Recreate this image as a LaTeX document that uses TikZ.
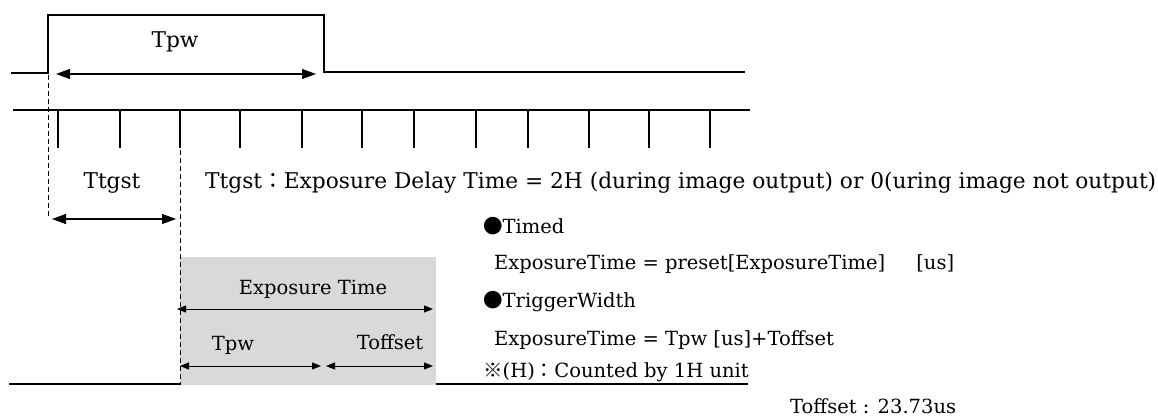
\documentclass[tikz,border=0pt]{standalone}
\usepackage{fontspec}
\setmainfont{DejaVu Serif}
\newfontfamily\cjk{Noto Sans CJK JP}
\usetikzlibrary{arrows.meta}
\definecolor{boxgray}{RGB}{217,217,217}
\tikzset{
  dimarrow/.style={{Triangle[length=14pt,width=10pt]}-{Triangle[length=14pt,width=10pt]},line width=1.2pt},
  dimsmall/.style={{Triangle[length=9pt,width=7pt]}-{Triangle[length=9pt,width=7pt]},line width=1pt},
  sig/.style={line width=1.3pt},
  guide/.style={line width=1pt,dash pattern=on 5pt off 3pt},
  lbl/.style={font=\fontsize{19.5}{21}\selectfont,inner sep=0pt},
  biglbl/.style={font=\fontsize{21.7}{23}\selectfont,inner sep=0pt},
  note/.style={lbl,anchor=west},
}
\begin{document}
\begin{tikzpicture}[x=1pt,y=-1pt]
\useasboundingbox (0,0) rectangle (1158,417);
% trigger input
\draw[sig] (11,73) -- (48,73) -- (48,15) -- (324,15) -- (324,72) -- (745,72);
\coordinate (tpwL) at (56,74);
\coordinate (tpwR) at (316,74);
\draw[dimarrow] (tpwL) -- (tpwR);
\node[biglbl] (tpw) at (175,42) {Tpw};
% H sync
\draw[sig] (13,110) -- (750,110);
\foreach \x in {58,120,180,240,302,362,414,476,528,589,649,710}
\draw[sig] (\x,110) -- (\x,148);
% exposure
\fill[boxgray] (180,257) rectangle (436,385);
\draw[line width=2pt] (9,384) -- (180,384);
\draw[line width=2pt] (436,384) -- (748,384);
\draw[guide] (48,75) -- (48,218);
\draw[guide] (180,150) -- (180,385);
\coordinate (tgL) at (52,219);
\coordinate (tgR) at (176,219);
\draw[dimarrow] (tgL) -- (tgR);
\node[biglbl] (ttgst) at (112,183) {Ttgst};
\coordinate (exL) at (177,309);
\coordinate (exR) at (433,309);
\draw[dimsmall] (exL) -- (exR);
\node[lbl] (exp) at (313,289) {Exposure Time};
\coordinate (pwL) at (180,366);
\coordinate (pwR) at (321,366);
\coordinate (ofL) at (326,366);
\coordinate (ofR) at (433,366);
\draw[dimsmall] (pwL) -- (pwR);
\draw[dimsmall] (ofL) -- (ofR);
\node[lbl] (tpwb) at (233,345) {Tpw};
\node[lbl] (toff) at (390,342) {Toffset};
% notes
\node[biglbl,anchor=west] (delay) at (205,183) {Ttgst{\cjk ：}Exposure Delay Time = 2H (during image output) or 0(uring image not output)};
\node[note] (timed) at (483,226) {{\cjk ●}Timed};
\node[note] (preset) at (494,264) {ExposureTime = preset[ExposureTime]\hspace{1.6em}[us]};
\node[note] (trig) at (483,302) {{\cjk ●}TriggerWidth};
\node[note] (width) at (494,340) {ExposureTime = Tpw [us]+Toffset};
\node[note] (unit) at (483,372) {{\cjk ※}(H){\cjk ：}Counted by 1H unit};
\node[note] (offval) at (790,406) {Toffset : 23.73us};
\end{tikzpicture}
\end{document}
